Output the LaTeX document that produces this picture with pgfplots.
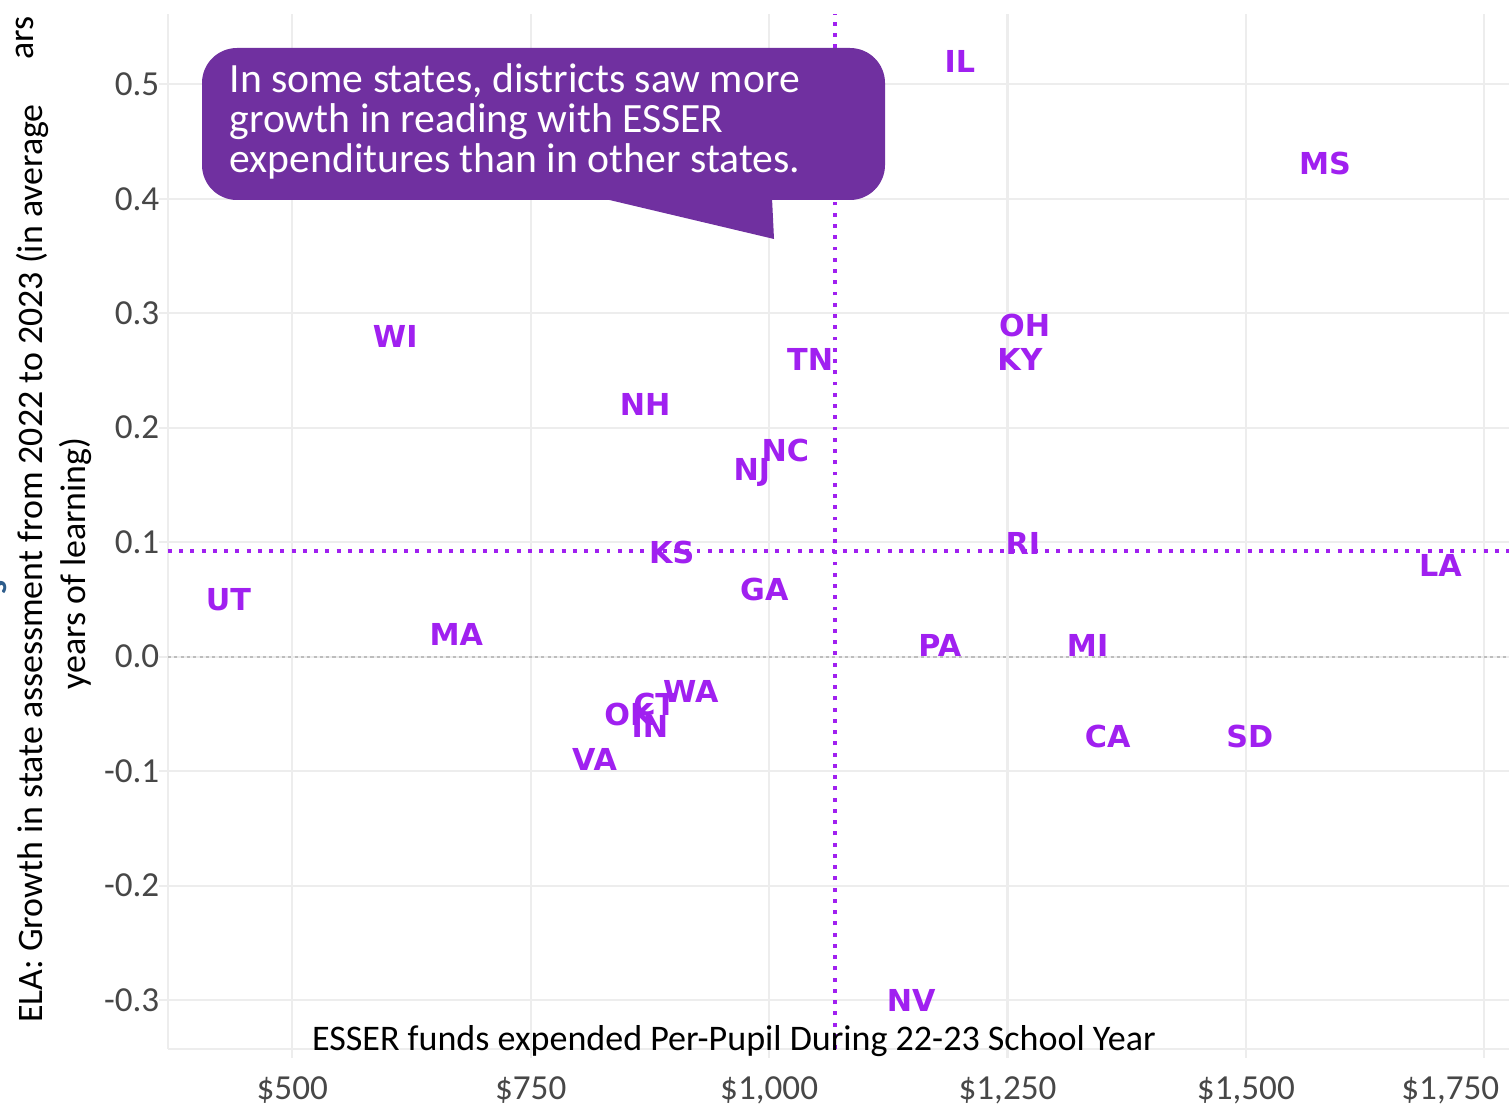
\documentclass[border=0pt]{standalone}
\usepackage{pgfplots}
\usepackage{pgfplotstable}
\pgfplotsset{compat=1.18}
\usepackage{fontspec}
\setmainfont{Carlito}
\newfontfamily\statefont{DejaVu Sans}
\definecolor{statepurple}{HTML}{A020F0}
\definecolor{boxpurple}{HTML}{7030A0}
\definecolor{gridgray}{HTML}{EDEDED}
\definecolor{zerogray}{HTML}{BDBDBD}
\definecolor{fragblue}{HTML}{2E5D8C}

\pgfplotstableread{
x y label
1200 0.5195 IL
1583 0.4304 MS
608 0.2801 WI
1268 0.2897 OH
1263 0.2600 KY
1043 0.2600 TN
870 0.2199 NH
1017 0.1797 NC
982 0.1605 NJ
898 0.0906 KS
1266 0.0993 RI
1704 0.0797 LA
433 0.0496 UT
995 0.0587 GA
672 0.0190 MA
1179 0.0102 PA
1334 0.0102 MI
918 -0.0304 WA
880 -0.0418 CT
853 -0.0501 OK
875 -0.0614 IN
817 -0.0902 VA
1355 -0.0701 CA
1504 -0.0701 SD
1149 -0.2999 NV
}\statedata

\begin{document}
\begin{tikzpicture}
\path[use as bounding box] (0,0) rectangle (150.9mm,-110.9mm);
\begin{axis}[
  at={(16.8mm,-104.9mm)}, anchor=south west,
  scale only axis, width=134.1mm, height=103.5mm,
  xmin=369.65, xmax=1775.9, ymin=-0.3427, ymax=0.5614,
  axis x line=bottom, axis y line=left,
  axis line style={-, draw=gridgray, line width=0.6pt},
  grid=major, major grid style={draw=gridgray, line width=0.6pt},
  tick style={draw=gridgray, line width=0.6pt},
  tick align=outside, major tick length=0.9mm,
  xtick={500,750,1000,1250,1500,1750},
  xticklabels={\$500,\$750,{\$1,000},{\$1,250},{\$1,500},{\makebox[0pt]{\hspace*{-6.8mm}\$1,750}}},
  ytick={-0.3,-0.2,-0.1,0,0.1,0.2,0.3,0.4,0.5},
  yticklabels={-0.3,-0.2,-0.1,0.0,0.1,0.2,0.3,0.4,0.5},
  ticklabel style={font=\fontsize{10}{12}\selectfont, text=black!72},
  xticklabel style={anchor=center, inner sep=0pt, yshift=-3.2mm},
  yticklabel style={anchor=east, inner sep=0pt, xshift=0.1mm},
  clip=false,
]
\addplot[zerogray, line width=0.5pt, dash pattern=on 0.9pt off 0.9pt] coordinates {(369.65,0) (1775.9,0)};
\addplot[statepurple, line width=1.1pt, dash pattern=on 1.1pt off 2.1pt] coordinates {(1069.1,-0.3427) (1069.1,0.5614)};
\addplot[statepurple, line width=1.1pt, dash pattern=on 1.1pt off 2.1pt] coordinates {(369.65,0.0923) (1775.9,0.0923)};
\addplot[only marks, mark=none, nodes near coords, point meta=explicit symbolic,
  nodes near coords align=center,
  every node near coord/.append style={anchor=center, inner sep=0pt, text=statepurple,
    font=\statefont\bfseries\fontsize{8.6}{10}\selectfont}]
  table[x=x, y=y, meta=label] {\statedata};
\end{axis}
\begin{scope}[x=0.1mm, y=-0.1mm]
\fill[boxpurple, rounded corners=3.5mm] (202,48) rectangle (885,200);
\fill[boxpurple] (601,198) -- (772,198) -- (774,239) -- cycle;
\begin{scope}[every node/.style={anchor=base west, inner sep=0pt, text=white, font=\fontsize{11.85}{13}\selectfont}]
\node at (229,93) {In some states, districts saw more};
\node at (229,133) {growth in reading with ESSER};
\node at (229,173) {expenditures than in other states.};
\end{scope}
\node[anchor=base, inner sep=0pt, font=\fontsize{10.25}{12}\selectfont] at (734,1050) {ESSER funds expended Per-Pupil During 22-23 School Year};
\node[rotate=90, anchor=base, inner sep=0pt, font=\fontsize{10.2}{12}\selectfont] at (43,563.5) {ELA: Growth in state assessment from 2022 to 2023 (in average};
\node[rotate=90, anchor=base, inner sep=0pt, font=\fontsize{10.2}{12}\selectfont] at (85,563.5) {years of learning)};
\node[rotate=90, anchor=base west, inner sep=0pt, font=\fontsize{10.2}{12}\selectfont] at (33,60) {ars};
\node[rotate=90, anchor=base, inner sep=0pt, text=fragblue, font=\bfseries\fontsize{10}{12}\selectfont] at (6,587) {s};
\end{scope}
\end{tikzpicture}
\end{document}
